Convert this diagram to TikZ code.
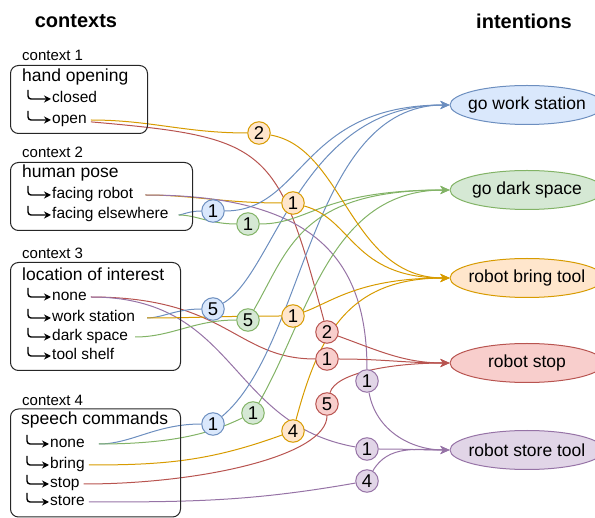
\documentclass[tikz,border=0pt]{standalone}
\usepackage{fontspec}
\setmainfont{Liberation Sans}
\usetikzlibrary{arrows.meta, positioning, shapes.geometric, backgrounds}

\definecolor{bluefill}{HTML}{DAE8FC}
\definecolor{blueline}{HTML}{6C8EBF}
\definecolor{greenfill}{HTML}{D5E8D4}
\definecolor{greenline}{HTML}{82B366}
\definecolor{orangefill}{HTML}{FFE6CC}
\definecolor{orangeline}{HTML}{D79B00}
\definecolor{redfill}{HTML}{F8CECC}
\definecolor{redline}{HTML}{B85450}
\definecolor{purplefill}{HTML}{E1D5E7}
\definecolor{purpleline}{HTML}{9673A6}

\begin{document}
\begin{tikzpicture}[x=1pt, y=1pt,
heading/.style={font=\bfseries\fontsize{20}{24}\selectfont},
ctxbox/.style={draw=black!85, line width=1pt, rounded corners=8pt,
                anchor=north west, inner sep=0},
ctxlabel/.style={anchor=west, inner sep=0, font=\fontsize{15}{18}\selectfont},
ctxtitle/.style={anchor=west, inner sep=0, font=\fontsize{17.5}{20}\selectfont},
item/.style={anchor=west, inner xsep=1pt, inner ysep=0, text height=11.2pt,
                text depth=3.3pt, font=\fontsize{15.5}{18}\selectfont},
hook/.style={draw=black, line width=1.4pt, rounded corners=3pt,
                -{Stealth[length=7pt,width=7pt]}},
weight/.style={circle, line width=1pt, minimum size=22.5pt, inner sep=0,
                font=\fontsize{18.5}{18.5}\selectfont},
intention/.style={ellipse, line width=1pt, minimum width=154pt,
                minimum height=39pt, inner xsep=-30pt, inner ysep=0,
                font=\fontsize{17.5}{20}\selectfont},
cblue/.style={draw=blueline, fill=bluefill},
cgreen/.style={draw=greenline, fill=greenfill},
corange/.style={draw=orangeline, fill=orangefill},
cred/.style={draw=redline, fill=redfill},
cpurple/.style={draw=purpleline, fill=purplefill},
eblue/.style={draw=blueline, line width=1pt},
egreen/.style={draw=greenline, line width=1pt},
eorange/.style={draw=orangeline, line width=1pt},
ered/.style={draw=redline, line width=1pt},
epurple/.style={draw=purpleline, line width=1pt},
link/.style={-{Stealth[length=9pt,width=8pt,inset=2.5pt]}}
]
\useasboundingbox (0,0) rectangle (595,-518);

\node[heading] (contexts) at (76,-21) {contexts};
\node[heading] (intentions) at (524,-21) {intentions};

% context 1
\node[ctxlabel] (c1label) at (22,-55) {context 1};
\node[ctxbox, minimum width=137pt, minimum height=68pt] (c1box) at (10,-65) {};
\node[ctxtitle] (c1title) at (22,-77) {hand opening};
\node[item] (c1closed) at (51,-99) {closed};
\node[item] (c1open) at (51,-120) {open};

% context 2
\node[ctxlabel] (c2label) at (22,-152) {context 2};
\node[ctxbox, minimum width=182pt, minimum height=68pt] (c2box) at (10,-162) {};
\node[ctxtitle] (c2title) at (22,-173) {human pose};
\node[item] (c2robot) at (51,-195) {facing robot};
\node[item] (c2else) at (51,-215) {facing elsewhere};

% context 3
\node[ctxlabel] (c3label) at (22,-253) {context 3};
\node[ctxbox, minimum width=170pt, minimum height=108pt] (c3box) at (10,-262) {};
\node[ctxtitle] (c3title) at (22,-274) {location of interest};
\node[item] (c3none) at (51,-297) {none};
\node[item] (c3work) at (51,-318) {work station};
\node[item] (c3dark) at (51,-337) {dark space};
\node[item] (c3shelf) at (51,-356) {tool shelf};

% context 4
\node[ctxlabel] (c4label) at (22,-400) {context 4};
\node[ctxbox, minimum width=170pt, minimum height=108pt] (c4box) at (10,-408.5) {};
\node[ctxtitle] (c4title) at (21,-420) {speech commands};
\node[item] (c4none) at (49,-444) {none};
\node[item] (c4bring) at (49,-465) {bring};
\node[item] (c4stop) at (49,-484) {stop};
\node[item] (c4store) at (49,-502) {store};

\draw[hook] ([xshift=-23pt,yshift=9pt]c1closed.west) |- (c1closed.west);
\draw[hook] ([xshift=-23pt,yshift=9pt]c1open.west) |- (c1open.west);
\draw[hook] ([xshift=-23pt,yshift=9pt]c2robot.west) |- (c2robot.west);
\draw[hook] ([xshift=-23pt,yshift=9pt]c2else.west) |- (c2else.west);
\draw[hook] ([xshift=-23pt,yshift=9pt]c3none.west) |- (c3none.west);
\draw[hook] ([xshift=-23pt,yshift=9pt]c3work.west) |- (c3work.west);
\draw[hook] ([xshift=-23pt,yshift=9pt]c3dark.west) |- (c3dark.west);
\draw[hook] ([xshift=-23pt,yshift=9pt]c3shelf.west) |- (c3shelf.west);
\draw[hook] ([xshift=-22pt,yshift=9pt]c4none.west) |- (c4none.west);
\draw[hook] ([xshift=-22pt,yshift=9pt]c4bring.west) |- (c4bring.west);
\draw[hook] ([xshift=-22pt,yshift=9pt]c4stop.west) |- (c4stop.west);
\draw[hook] ([xshift=-22pt,yshift=9pt]c4store.west) |- (c4store.west);

% weights
\node[weight, corange] (o2) at (259,-133) {2};
\node[weight, corange] (o1a) at (293,-203) {1};
\node[weight, cblue] (b1a) at (213,-211) {1};
\node[weight, cgreen] (g1a) at (248,-224) {1};
\node[weight, cblue] (b5) at (213,-309) {5};
\node[weight, cgreen] (g5) at (248,-320) {5};
\node[weight, corange] (o1b) at (293,-316) {1};
\node[weight, cred] (r2) at (327,-332) {2};
\node[weight, cred] (r1) at (327,-359) {1};
\node[weight, cpurple] (p1a) at (367,-381) {1};
\node[weight, cred] (r5) at (327,-404) {5};
\node[weight, cgreen] (g1b) at (253,-413) {1};
\node[weight, cblue] (b1b) at (213,-424) {1};
\node[weight, corange] (o4) at (293,-431) {4};
\node[weight, cpurple] (p1b) at (367,-449) {1};
\node[weight, cpurple] (p4) at (367,-481) {4};

% intentions
\node[intention, cblue] (ws) at (527,-105) {go work station};
\node[intention, cgreen] (ds) at (527,-190) {go dark space};
\node[intention, corange] (bt) at (527,-278) {robot bring tool};
\node[intention, cred] (st) at (527,-363) {robot stop};
\node[intention, cpurple] (sto) at (527,-450) {robot store tool};

\begin{scope}[on background layer]
% contexts to weights
\draw[eorange, shorten <=3pt] (c1open) to[out=0,in=180] (o2);
\draw[ered, shorten <=3pt] (c1open) to[out=-5,in=105,looseness=1.5] (r2);
\draw[eorange, shorten <=11pt] (c2robot) to[out=0,in=180] (o1a);
\draw[epurple, shorten <=11pt] (c2robot) to[out=0,in=90,out distance=180pt,in distance=110pt] (p1a);
\draw[eblue, shorten <=9pt] (c2else) to[out=0,in=180] (b1a);
\draw[egreen, shorten <=9pt] (c2else) to[out=0,in=180] (g1a);
\draw[ered, shorten <=3pt] (c3none) to[out=0,in=180,out distance=140pt,in distance=80pt] (r1);
\draw[epurple, shorten <=3pt] (c3none) to[out=0,in=170,out distance=150pt,in distance=130pt] (p1b);
\draw[eblue, shorten <=11pt] (c3work) to[out=0,in=180] (b5);
\draw[eorange, shorten <=11pt] (c3work) to[out=0,in=180] (o1b);
\draw[egreen, shorten <=6pt] (c3dark) to[out=0,in=180] (g5);
\draw[eblue, shorten <=13pt] (c4none) to[out=0,in=180] (b1b);
\draw[egreen, shorten <=13pt] (c4none) to[out=0,in=205,out distance=100pt,in distance=25pt] (g1b);
\draw[eorange, shorten <=3pt] (c4bring) to[out=0,in=200] (o4);
\draw[ered, shorten <=3pt] (c4stop) to[out=0,in=-90,out distance=120pt,in distance=40pt] (r5);
\draw[epurple, shorten <=3pt] (c4store) to[out=0,in=190] (p4);

% weights to intentions
\draw[eblue, link] (b1a) to[out=0,in=180,out distance=80pt,in distance=150pt] (ws);
\draw[eblue, link] (b5) to[out=30,in=180,out distance=60pt,in distance=150pt] (ws);
\draw[eblue, link] (b1b) to[out=40,in=180,out distance=110pt,in distance=140pt] (ws);
\draw[egreen, link] (g1a) to[out=0,in=180,out distance=50pt,in distance=130pt] (ds);
\draw[egreen, link] (g5) to[out=60,in=180,out distance=70pt,in distance=150pt] (ds);
\draw[egreen, link] (g1b) to[out=60,in=180,out distance=100pt,in distance=120pt] (ds);
\draw[eorange, link] (o2) to[out=-10,in=180,out distance=75pt,in distance=100pt] (bt);
\draw[eorange, link] (o1a) to[out=-15,in=180,out distance=50pt,in distance=97pt] (bt);
\draw[eorange, link] (o1b) to[out=20,in=180,out distance=30pt,in distance=90pt] (bt);
\draw[eorange, link] (o4) to[out=75,in=180,out distance=90pt,in distance=100pt] (bt);
\draw[ered, link] (r2) to[out=-20,in=180] (st);
\draw[ered, link] (r1) to[out=0,in=180] (st);
\draw[ered, link] (r5) to[out=75,in=180,out distance=20pt,in distance=60pt] (st);
\draw[epurple, link] (p1a) to[out=-80,in=180] (sto);
\draw[epurple, link] (p1b) to[out=0,in=180] (sto);
\draw[epurple, link] (p4) to[out=60,in=180] (sto);
\end{scope}

\end{tikzpicture}
\end{document}
